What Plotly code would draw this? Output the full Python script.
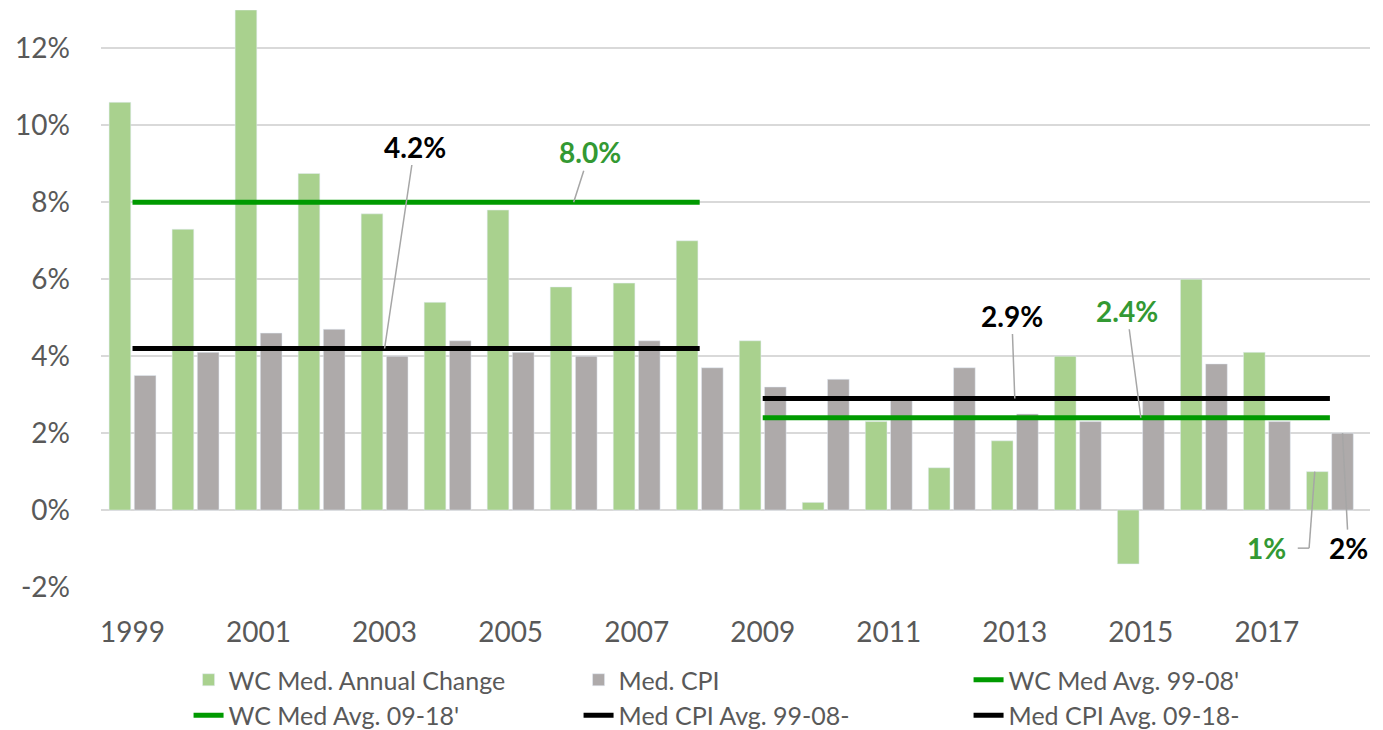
import plotly.graph_objects as go

years = ["1999", "2000", "2001", "2002", "2003", "2004", "2005", "2006", "2007", "2008",
         "2009", "2010", "2011", "2012", "2013", "2014", "2015", "2016", "2017", "2018"]
wc_change = [10.6, 7.3, 13.0, 8.75, 7.7, 5.4, 7.8, 5.8, 5.9, 7.0,
             4.4, 0.2, 2.3, 1.1, 1.8, 4.0, -1.4, 6.0, 4.1, 1.0]
med_cpi = [3.5, 4.1, 4.6, 4.7, 4.0, 4.4, 4.1, 4.0, 4.4, 3.7,
           3.2, 3.4, 2.9, 3.7, 2.5, 2.3, 2.9, 3.8, 2.3, 2.0]
period1 = ["1999", "2008"]
period2 = ["2009", "2018"]
wc_avg_1 = 8.0
wc_avg_2 = 2.4
cpi_avg_1 = 4.2
cpi_avg_2 = 2.9
tick_years = ["1999", "2001", "2003", "2005", "2007", "2009", "2011", "2013", "2015", "2017"]
y_ticks = [-2, 0, 2, 4, 6, 8, 10, 12]
y_ticktext = ["-2%", "0%", "2%", "4%", "6%", "8%", "10%", "12%"]

GREEN_BAR = "#A9D18E"
GRAY_BAR = "#AEAAAA"
GREEN_LINE = "#009A00"
GREEN_TEXT = "#339933"
LEADER = "#A6A6A6"
FONT = "Lato"
TXT = "#595959"

fig = go.Figure()
fig.add_trace(go.Bar(x=years, y=wc_change, name="WC Med. Annual Change", marker_color=GREEN_BAR))
fig.add_trace(go.Bar(x=years, y=med_cpi, name="Med. CPI", marker_color=GRAY_BAR))
fig.add_trace(go.Scatter(x=period1, y=[wc_avg_1] * len(period1), mode="lines",
                         name="WC Med Avg. 99-08'", line=dict(color=GREEN_LINE, width=5)))
fig.add_trace(go.Scatter(x=period2, y=[wc_avg_2] * len(period2), mode="lines",
                         name="WC Med Avg. 09-18'", line=dict(color=GREEN_LINE, width=5)))
fig.add_trace(go.Scatter(x=period1, y=[cpi_avg_1] * len(period1), mode="lines",
                         name="Med CPI Avg. 99-08-", line=dict(color="#000000", width=5)))
fig.add_trace(go.Scatter(x=period2, y=[cpi_avg_2] * len(period2), mode="lines",
                         name="Med CPI Avg. 09-18-", line=dict(color="#000000", width=5)))

def label(x, y, text, color, ax, ay):
    fig.add_annotation(x=x, y=y, text=f"<b>{text}</b>", showarrow=True, arrowhead=0,
                       arrowcolor=LEADER, arrowwidth=1.5, ax=ax, ay=ay,
                       font=dict(family=FONT, size=28, color=color))

label(4, cpi_avg_1, f"{cpi_avg_1:.1f}%", "#000000", 30, -202)
label(7, wc_avg_1, f"{wc_avg_1:.1f}%", GREEN_TEXT, 16, -50)
label(14, cpi_avg_2, f"{cpi_avg_2:.1f}%", "#000000", -3, -83)
label(16, wc_avg_2, f"{wc_avg_2:.1f}%", GREEN_TEXT, -14, -107)
label(19.2, med_cpi[-1], f"{med_cpi[-1]:.0f}%", "#000000", 6, 115)

# "1%" label with elbow leader
fig.add_annotation(x=18.0, y=-0.99, text=f"<b>{wc_change[-1]:.0f}%</b>", showarrow=False,
                   font=dict(family=FONT, size=28, color=GREEN_TEXT))
fig.add_shape(type="line", xref="x", yref="y", x0=18.49, y0=-0.99, x1=18.67, y1=-0.99,
              line=dict(color=LEADER, width=1.5))
fig.add_shape(type="line", xref="x", yref="y", x0=18.67, y0=-0.99, x1=18.76, y1=wc_change[-1],
              line=dict(color=LEADER, width=1.5))

fig.update_layout(
    width=1383, height=730,
    margin=dict(l=101, r=13, t=10, b=143),
    paper_bgcolor="white", plot_bgcolor="white",
    barmode="group", bargap=0.2, bargroupgap=0.14,
    font=dict(family=FONT, color=TXT),
    showlegend=True,
    legend=dict(orientation="h", x=0.069, y=0.1, xanchor="left", yanchor="top",
                yref="container",
                font=dict(family=FONT, size=25, color=TXT),
                entrywidth=345, entrywidthmode="pixels", traceorder="normal"),
    xaxis=dict(type="category", tickmode="array", tickvals=tick_years, ticktext=tick_years,
               showgrid=False, showline=False, ticks="", tickfont=dict(size=28, color=TXT),
               ticklabelstandoff=26, fixedrange=True, automargin=False),
    yaxis=dict(range=[-2, 13], tickmode="array", tickvals=y_ticks, ticktext=y_ticktext,
               showgrid=True, gridcolor="#D9D9D9", gridwidth=1.5, zeroline=True,
               zerolinecolor="#D9D9D9", zerolinewidth=1.5, showline=False,
               tickfont=dict(size=28, color=TXT), ticklabelstandoff=30, automargin=False),
)

fig.write_html("out.html", config={"displayModeBar": False},
               post_script="document.body.style.margin='0';document.body.style.overflow='hidden';")
